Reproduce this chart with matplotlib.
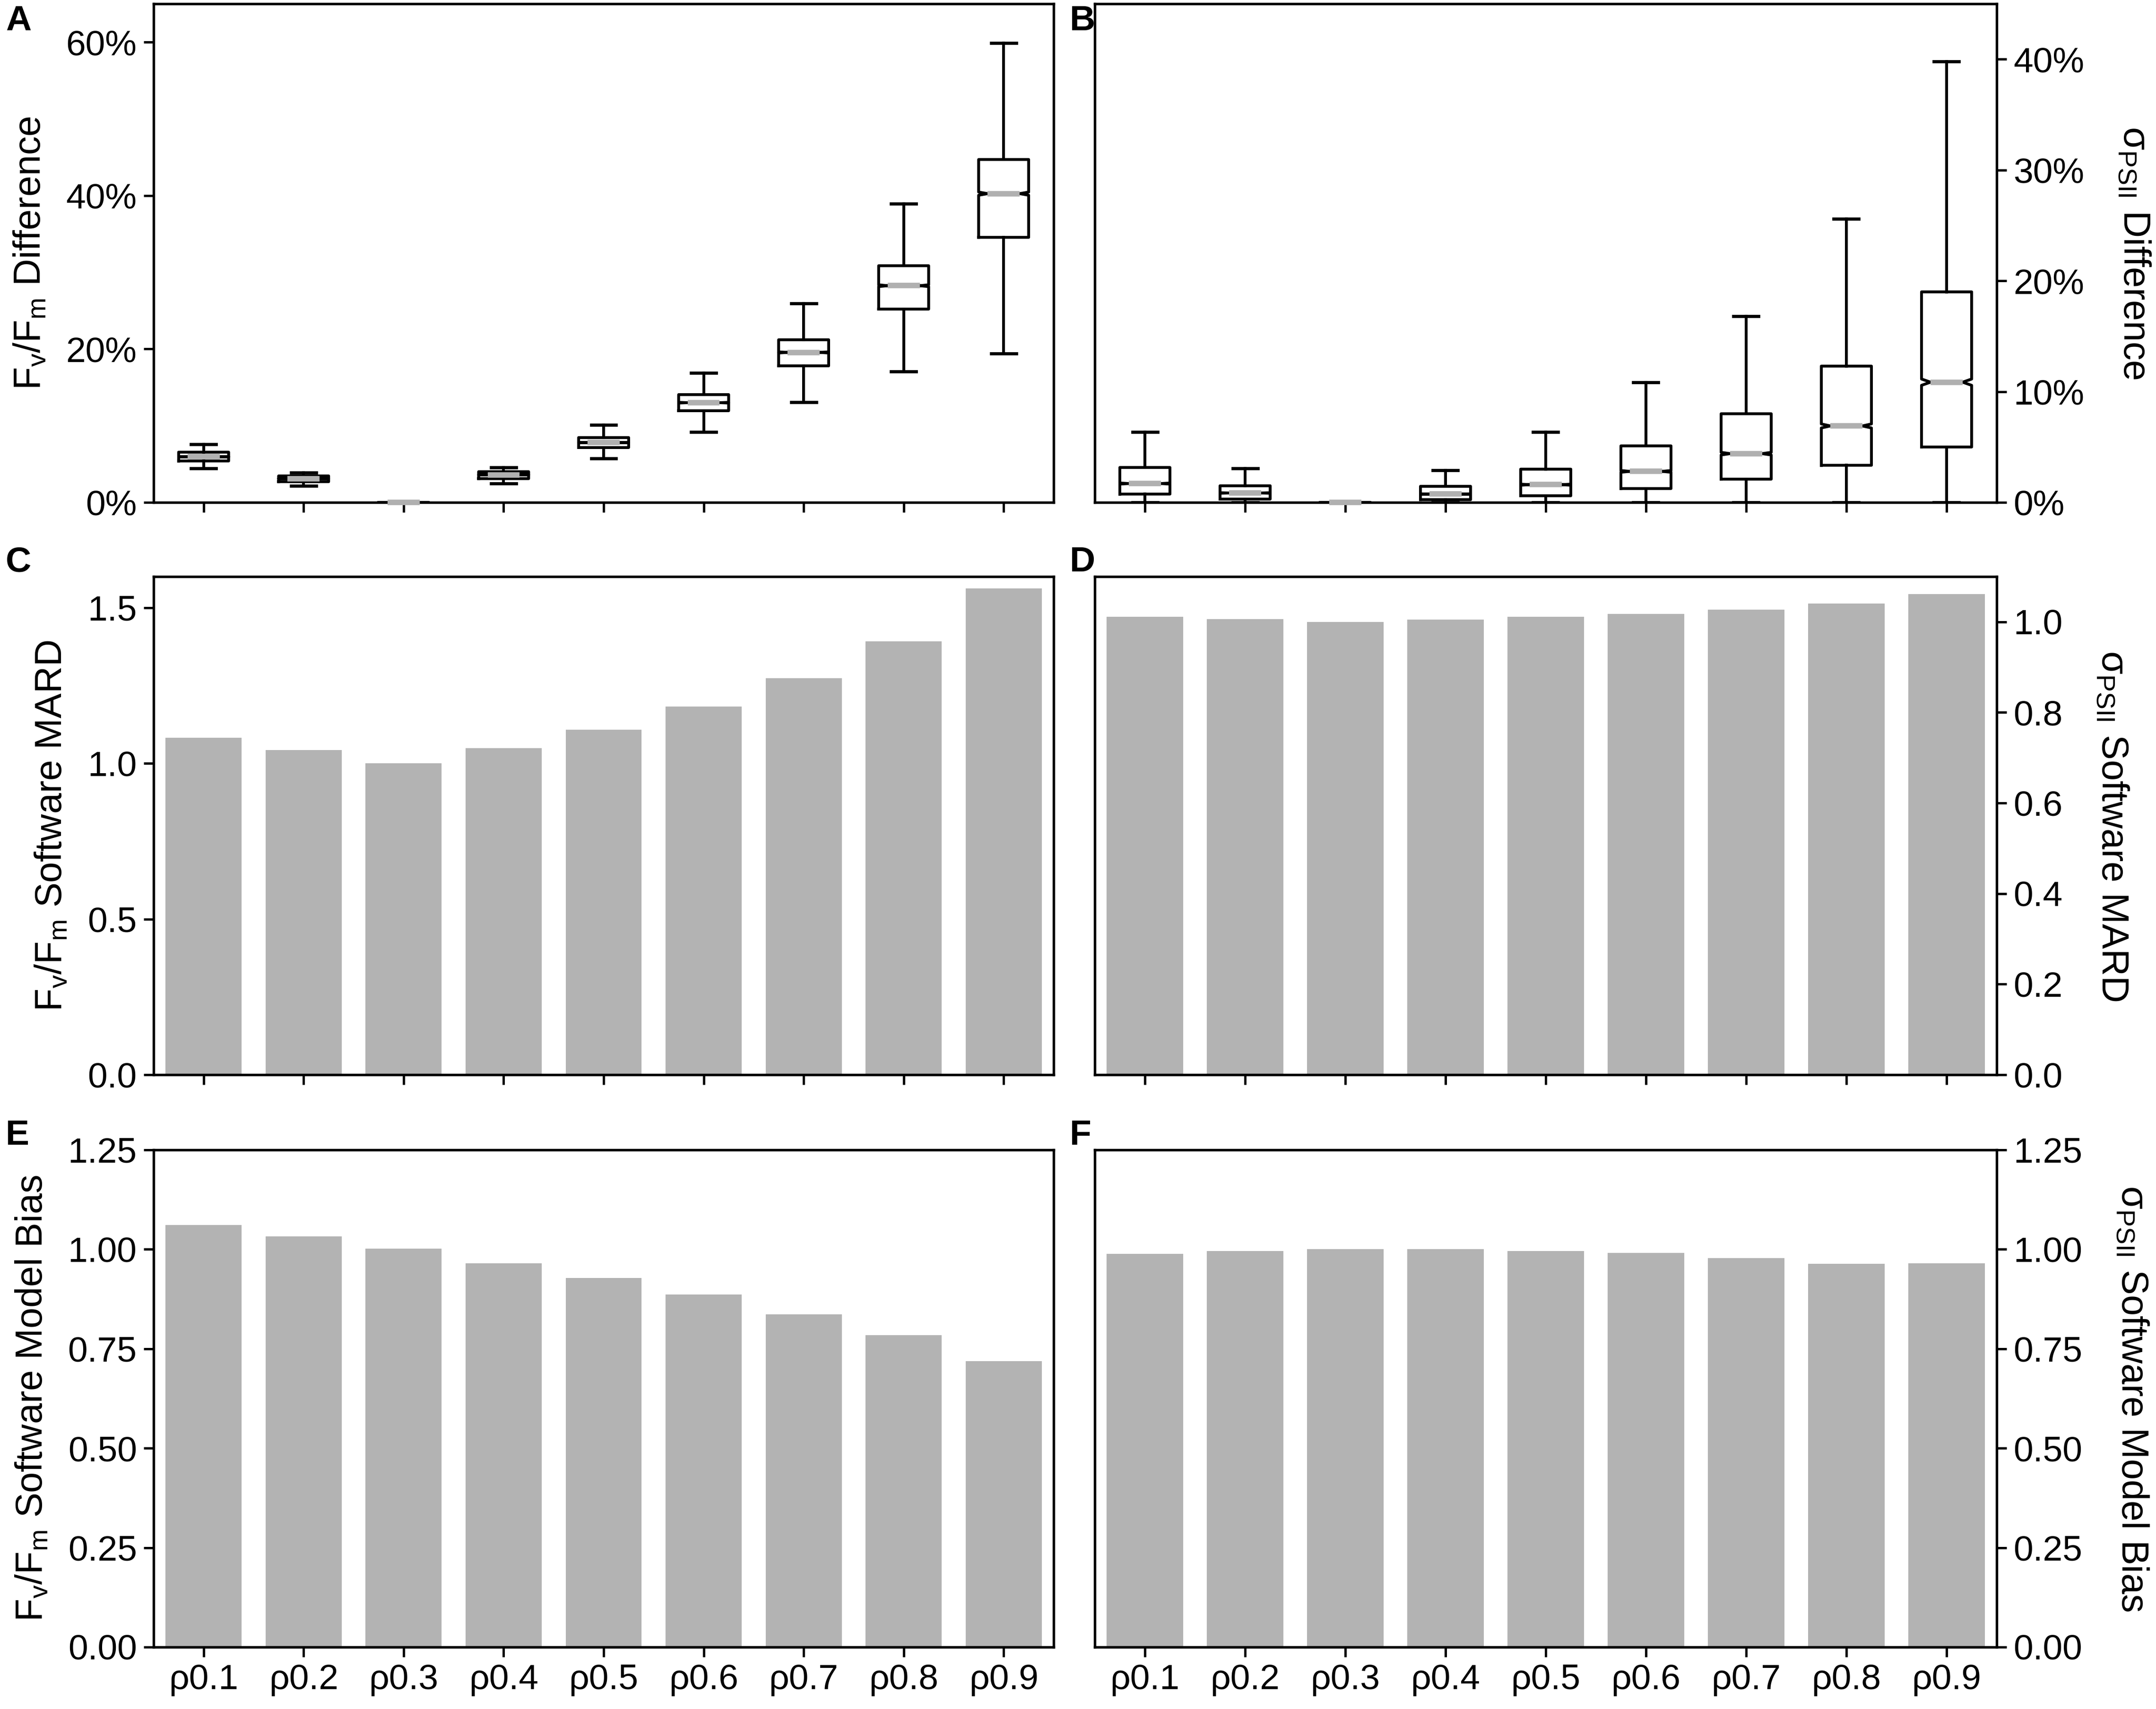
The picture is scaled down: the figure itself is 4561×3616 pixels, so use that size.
import matplotlib
matplotlib.use("Agg")
import matplotlib.pyplot as plt
from matplotlib.ticker import FuncFormatter

plt.rcParams['font.family'] = ['Liberation Sans', 'DejaVu Sans']
plt.rcParams['mathtext.fontset'] = 'custom'
plt.rcParams['mathtext.rm'] = 'Liberation Sans'
plt.rcParams['mathtext.it'] = 'Liberation Sans'
plt.rcParams['mathtext.default'] = 'regular'

# ---- data ----
labels = ['ρ0.1', 'ρ0.2', 'ρ0.3', 'ρ0.4', 'ρ0.5', 'ρ0.6', 'ρ0.7', 'ρ0.8', 'ρ0.9']

# panel A: Fv/Fm difference (%)
fv_whislo = [4.45, 2.15, 0.0, 2.45, 5.7, 9.2, 13.05, 17.05, 19.4]
fv_q1 = [5.4, 2.7, 0.0, 3.1, 7.15, 11.95, 17.8, 25.2, 34.55]
fv_med = [5.95, 3.1, 0.0, 3.6, 7.8, 13.0, 19.55, 28.25, 40.25]
fv_q3 = [6.55, 3.45, 0.0, 4.0, 8.45, 14.05, 21.2, 30.85, 44.7]
fv_whishi = [7.6, 3.9, 0.0, 4.55, 10.1, 16.9, 25.95, 38.95, 59.9]

# panel B: sigma PSII difference (%)
sg_whislo = [0.0, 0.0, 0.0, 0.0, 0.0, 0.0, 0.0, 0.0, 0.0]
sg_q1 = [0.75, 0.3, 0.0, 0.25, 0.6, 1.25, 2.1, 3.35, 5.0]
sg_med = [1.7, 0.85, 0.0, 0.75, 1.6, 2.8, 4.4, 6.9, 10.85]
sg_q3 = [3.15, 1.5, 0.0, 1.45, 3.0, 5.1, 8.0, 12.3, 19.0]
sg_whishi = [6.35, 3.05, 0.0, 2.9, 6.35, 10.85, 16.8, 25.6, 39.8]

# panels C-F: bars
fv_mard = [1.083, 1.043, 1.001, 1.049, 1.108, 1.183, 1.273, 1.392, 1.562]
sg_mard = [1.011, 1.006, 1.000, 1.005, 1.011, 1.018, 1.027, 1.040, 1.061]
fv_bias = [1.061, 1.032, 1.002, 0.965, 0.928, 0.887, 0.837, 0.784, 0.719]
sg_bias = [0.988, 0.996, 1.000, 1.000, 0.996, 0.991, 0.978, 0.964, 0.965]

n_samples = 6000  # notch size (1.57 * IQR / sqrt(n))

FV = r'F$_{v}$/F$_{m}$'
SG = r'σ$_{PSII}$'

W, H = 4561, 3616
DPI = 300
fig = plt.figure(figsize=(W / DPI, H / DPI), dpi=DPI)

FS = 18
LFS = 19
LW = 1.45
BAR_COLOR = '#b3b3b3'
BOX_W = 0.5
NOTCH_DEPTH = 0.18  # fraction of box width


def px_axes(x0, y0, x1, y1):
    return fig.add_axes([x0 / W, 1 - y1 / H, (x1 - x0) / W, (y1 - y0) / H])


def style(ax, right=False, xlabels=False):
    for s in ax.spines.values():
        s.set_linewidth(1.3)
    ax.tick_params(axis='both', labelsize=FS, length=5, width=1.2, direction='out')
    if right:
        ax.yaxis.tick_right()
        ax.yaxis.set_label_position('right')
    ax.set_xlim(-0.5, 8.5)
    ax.set_xticks(range(len(labels)))
    if xlabels:
        ax.set_xticklabels(labels)
    else:
        ax.set_xticklabels([])


def left_label(ax, text):
    ax.set_ylabel(text, fontsize=LFS, labelpad=9)


def right_label(ax, text):
    ax.set_ylabel(text, fontsize=LFS, rotation=270, labelpad=34)


def boxes(ax, lo, q1, med, q3, hi):
    stats = []
    for i in range(len(med)):
        ci = 1.57 * (q3[i] - q1[i]) / n_samples ** 0.5
        stats.append(dict(whislo=lo[i], q1=q1[i], med=med[i], q3=q3[i], whishi=hi[i],
                          cilo=med[i] - ci, cihi=med[i] + ci, fliers=[]))
    art = ax.bxp(stats, positions=range(len(med)), widths=BOX_W, shownotches=True,
                 showfliers=False, manage_ticks=False,
                 boxprops=dict(color='black', linewidth=LW),
                 whiskerprops=dict(color='black', linewidth=LW),
                 capprops=dict(color='black', linewidth=1.6),
                 medianprops=dict(color='#b0b0b0', linewidth=2.8, solid_capstyle='butt'))
    # shallower notches than matplotlib's default
    off = BOX_W * (0.5 - NOTCH_DEPTH)
    for i, (bx, md) in enumerate(zip(art['boxes'], art['medians'])):
        xs = list(bx.get_xdata())
        xs[3] = i + off
        xs[8] = i - off
        bx.set_xdata(xs)
        md.set_xdata([i - off, i + off])
        md.set_zorder(3)
        md.set_clip_on(False)


pct = FuncFormatter(lambda v, p: '%d%%' % round(v))

L0, L1 = 325, 2229
R0, R1 = 2316, 4224
rows = [(8, 1063), (1220, 2274), (2433, 3485)]

# A
axA = px_axes(L0, rows[0][0], L1, rows[0][1])
style(axA)
boxes(axA, fv_whislo, fv_q1, fv_med, fv_q3, fv_whishi)
axA.set_ylim(0, 65)
axA.set_yticks([0, 20, 40, 60])
axA.yaxis.set_major_formatter(pct)
left_label(axA, FV + ' Difference')

# B
axB = px_axes(R0, rows[0][0], R1, rows[0][1])
style(axB, right=True)
boxes(axB, sg_whislo, sg_q1, sg_med, sg_q3, sg_whishi)
axB.set_ylim(0, 45)
axB.set_yticks([0, 10, 20, 30, 40])
axB.yaxis.set_major_formatter(pct)
right_label(axB, SG + ' Difference')

# C
axC = px_axes(L0, rows[1][0], L1, rows[1][1])
style(axC)
axC.bar(range(len(labels)), fv_mard, width=0.76, color=BAR_COLOR)
axC.set_ylim(0, 1.6)
axC.set_yticks([0.0, 0.5, 1.0, 1.5])
axC.yaxis.set_major_formatter(FuncFormatter(lambda v, p: '%.1f' % v))
left_label(axC, FV + ' Software MARD')

# D
axD = px_axes(R0, rows[1][0], R1, rows[1][1])
style(axD, right=True)
axD.bar(range(len(labels)), sg_mard, width=0.76, color=BAR_COLOR)
axD.set_ylim(0, 1.1)
axD.set_yticks([0.0, 0.2, 0.4, 0.6, 0.8, 1.0])
axD.yaxis.set_major_formatter(FuncFormatter(lambda v, p: '%.1f' % v))
right_label(axD, SG + ' Software MARD')

# E
axE = px_axes(L0, rows[2][0], L1, rows[2][1])
style(axE, xlabels=True)
axE.bar(range(len(labels)), fv_bias, width=0.76, color=BAR_COLOR)
axE.set_ylim(0, 1.25)
axE.set_yticks([0.0, 0.25, 0.5, 0.75, 1.0, 1.25])
axE.yaxis.set_major_formatter(FuncFormatter(lambda v, p: '%.2f' % v))
left_label(axE, FV + ' Software Model Bias')

# F
axF = px_axes(R0, rows[2][0], R1, rows[2][1])
style(axF, right=True, xlabels=True)
axF.bar(range(len(labels)), sg_bias, width=0.76, color=BAR_COLOR)
axF.set_ylim(0, 1.25)
axF.set_yticks([0.0, 0.25, 0.5, 0.75, 1.0, 1.25])
axF.yaxis.set_major_formatter(FuncFormatter(lambda v, p: '%.2f' % v))
right_label(axF, SG + ' Software Model Bias')

# panel letters
for letter, x, y in [('A', 12, 10), ('B', 2263, 10), ('C', 12, 1155),
                     ('D', 2263, 1155), ('E', 12, 2368), ('F', 2263, 2368)]:
    fig.text(x / W, 1 - y / H, letter, fontsize=FS, fontweight='bold', va='top', ha='left')

fig.savefig('out.png', dpi=DPI)
